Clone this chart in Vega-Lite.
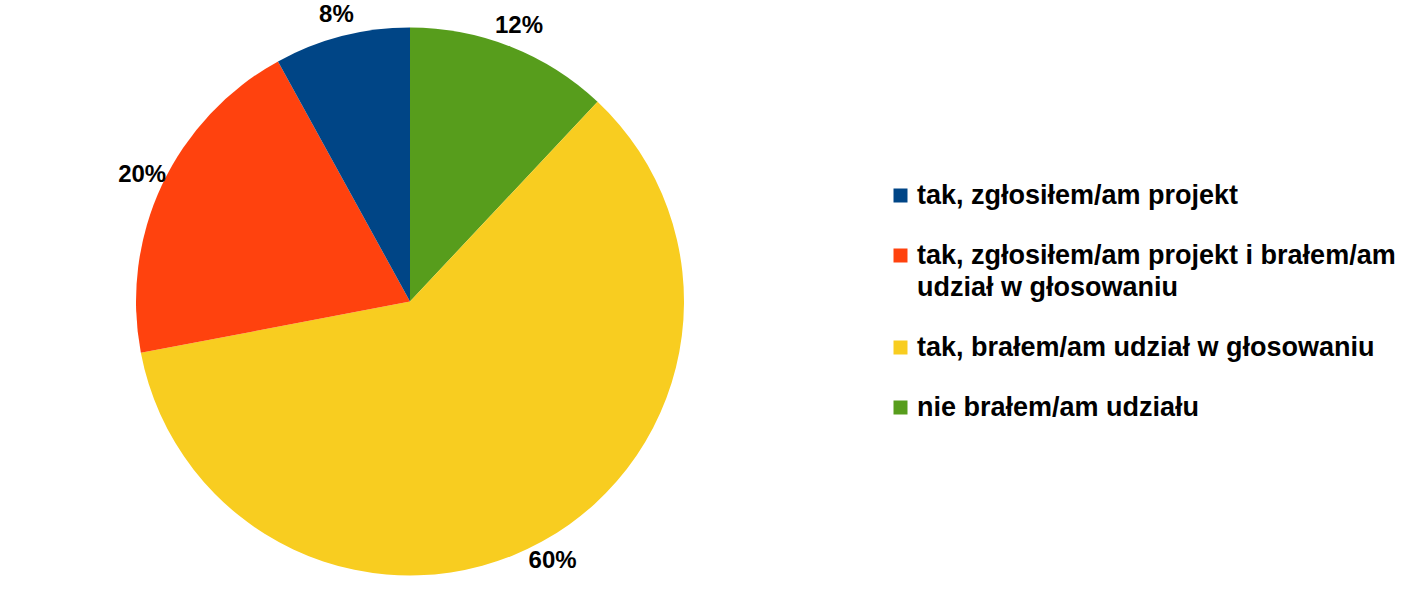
{
  "$schema": "https://vega.github.io/schema/vega-lite/v6.json",
  "width": 820,
  "height": 603,
  "padding": 0,
  "autosize": {"type": "pad"},
  "background": "white",
  "config": {
    "view": {"stroke": null},
    "font": "Liberation Sans",
    "style": {"guide-label": {"lineHeight": 32}}
  },
  "data": {
    "values": [
      {"ord": 1, "category": "nie brałem/am udziału", "value": 12, "label": "12%"},
      {"ord": 2, "category": "tak, brałem/am udział w głosowaniu", "value": 60, "label": "60%"},
      {"ord": 3, "category": "tak, zgłosiłem/am projekt i brałem/am udział w głosowaniu", "value": 20, "label": "20%"},
      {"ord": 4, "category": "tak, zgłosiłem/am projekt", "value": 8, "label": "8%"}
    ]
  },
  "encoding": {
    "theta": {"field": "value", "type": "quantitative", "stack": true},
    "order": {"field": "ord", "type": "quantitative"},
    "color": {
      "field": "category",
      "type": "nominal",
      "scale": {
        "domain": [
          "tak, zgłosiłem/am projekt",
          "tak, zgłosiłem/am projekt i brałem/am udział w głosowaniu",
          "tak, brałem/am udział w głosowaniu",
          "nie brałem/am udziału"
        ],
        "range": ["#004586", "#ff420e", "#f8cd20", "#579d1c"]
      },
      "legend": {
        "title": null,
        "orient": "none",
        "legendX": 887,
        "legendY": 182,
        "padding": 0,
        "symbolType": "square",
        "symbolSize": 196,
        "symbolStrokeWidth": 0,
        "labelFont": "Liberation Sans",
        "labelFontSize": 27,
        "labelFontWeight": "bold",
        "labelColor": "#000000",
        "labelLimit": 600,
        "labelOffset": 3,
        "rowPadding": 32,
        "labelExpr": "datum.label == 'tak, zgłosiłem/am projekt i brałem/am udział w głosowaniu' ? ['tak, zgłosiłem/am projekt i brałem/am', 'udział w głosowaniu'] : datum.label"
      }
    }
  },
  "layer": [
    {
      "mark": {"type": "arc", "outerRadius": 274, "stroke": null}
    },
    {
      "mark": {
        "type": "text",
        "radius": 296,
        "font": "Liberation Sans",
        "fontSize": 24,
        "fontWeight": "bold",
        "fill": "#000000"
      },
      "encoding": {
        "text": {"field": "label", "type": "nominal"},
        "color": {"value": "#000000"}
      }
    }
  ]
}
